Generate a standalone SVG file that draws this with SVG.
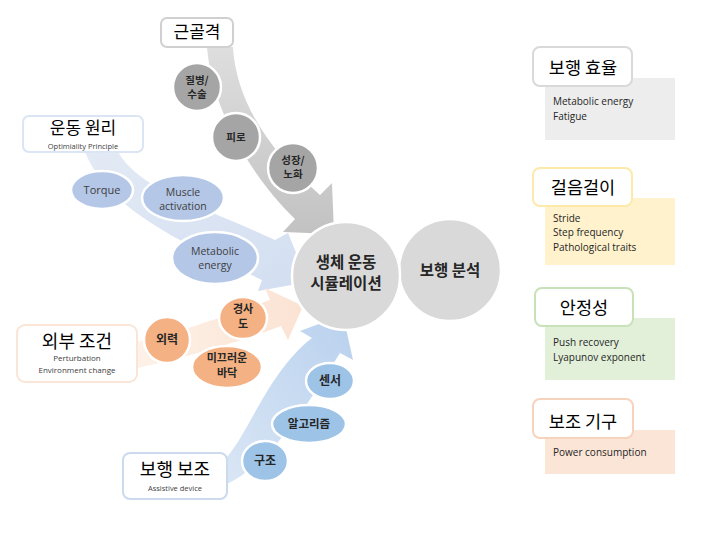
<svg xmlns="http://www.w3.org/2000/svg" width="720" height="540" viewBox="0 0 720 540">
<defs>
<linearGradient id="gGray" x1="0" y1="0" x2="0" y2="1"><stop offset="0" stop-color="#dedede"/><stop offset="1" stop-color="#c2c2c2"/></linearGradient>
<linearGradient id="gLB" x1="0" y1="0" x2="1" y2="1"><stop offset="0" stop-color="#e3eaf5"/><stop offset="1" stop-color="#d2def1"/></linearGradient>
<linearGradient id="gPe" x1="0" y1="0" x2="1" y2="0"><stop offset="0" stop-color="#fdf1e8"/><stop offset="1" stop-color="#fbe3d3"/></linearGradient>
<linearGradient id="gBl" x1="0" y1="1" x2="1" y2="0"><stop offset="0" stop-color="#d9e6f5"/><stop offset="1" stop-color="#b9d1ee"/></linearGradient>
</defs>
<style>
.ko{font-family:"Noto Sans CJK KR",sans-serif;fill:#000;text-anchor:middle}
.kob{font-family:"Noto Sans CJK KR",sans-serif;font-weight:bold;fill:#262626;text-anchor:middle}
.en{font-family:"Open Sans","Noto Sans CJK KR",sans-serif;fill:#262626}
.enc{font-family:"Open Sans","Noto Sans CJK KR",sans-serif;fill:#404040;text-anchor:middle}
.lbl{fill:#fff;stroke-width:2}
.sm{stroke:#fff;stroke-width:2.5}
</style>
<rect width="720" height="540" fill="#fff"/>
<g id="connectors">
<path d="M207,47 L233,47 C236,100 268,150 320,195 L332,183 L334,234 L283,232 L295,219 C250,175 212,110 207,47 Z" fill="url(#gGray)"/>
<path d="M85,152 L118,152 C140,190 200,205 275,240 L288,233 L308,282 L258,291 L262,280 C200,250 110,215 85,152 Z" fill="url(#gLB)"/>
<path d="M137,342 C170,335 220,318 270,300 L265,288 L303,306 L288,340 L281,326 C230,345 175,360 137,368 Z" fill="url(#gPe)"/>
<path d="M227,457 C250,430 270,370 312,338 L300,331 L343,315 L353,360 L340,353 C310,400 275,460 227,484 Z" fill="url(#gBl)"/>
</g>
<g id="musculoskeletal">
<rect x="161" y="18" width="72" height="29" rx="6" class="lbl" stroke="#d0d0d0"/>
<text x="197" y="38" class="ko" font-size="17">근골격</text>
</g>
<g id="disease">
<circle cx="197" cy="87" r="24" fill="#a5a5a5" class="sm"/>
<text x="197" y="84" class="kob" font-size="10.5">질병/</text>
<text x="197" y="98" class="kob" font-size="10.5">수술</text>
</g>
<g id="fatigue">
<circle cx="236" cy="137" r="24" fill="#a5a5a5" class="sm"/>
<text x="236" y="141" class="kob" font-size="10.5">피로</text>
</g>
<g id="growth">
<circle cx="293" cy="168" r="25" fill="#a5a5a5" class="sm"/>
<text x="293" y="164" class="kob" font-size="10.5">성장/</text>
<text x="293" y="178" class="kob" font-size="10.5">노화</text>
</g>
<g id="motion-principle">
<rect x="23" y="116" width="120" height="36" rx="6" class="lbl" stroke="#dce5f3"/>
<text x="83" y="134" class="ko" font-size="17">운동 원리</text>
<text x="83" y="148.5" class="enc" font-size="7.5" fill="#262626">Optimiality Principle</text>
</g>
<g id="torque">
<ellipse cx="102" cy="190" rx="31" ry="19" fill="#b4c7e7" class="sm"/>
<text x="102" y="194" class="enc" font-size="11">Torque</text>
</g>
<g id="muscle">
<ellipse cx="183" cy="198" rx="41" ry="23" fill="#b4c7e7" class="sm"/>
<text x="183" y="196" class="enc" font-size="10.5">Muscle</text>
<text x="183" y="210" class="enc" font-size="10.5">activation</text>
</g>
<g id="metabolic">
<ellipse cx="215" cy="258" rx="43" ry="26" fill="#b4c7e7" class="sm"/>
<text x="215" y="255" class="enc" font-size="10.5">Metabolic</text>
<text x="215" y="269" class="enc" font-size="10.5">energy</text>
</g>
<g id="external">
<rect x="17" y="325" width="120" height="57" rx="8" class="lbl" stroke="#fbe5d6"/>
<text x="77" y="348" class="ko" font-size="18">외부 조건</text>
<text x="77" y="361" class="enc" font-size="8" fill="#262626">Perturbation</text>
<text x="77" y="373" class="enc" font-size="8" fill="#262626">Environment change</text>
</g>
<g id="force">
<circle cx="167" cy="340" r="23" fill="#f4b183" class="sm"/>
<text x="167" y="344" class="kob" font-size="12">외력</text>
</g>
<g id="slope">
<ellipse cx="243" cy="318" rx="24" ry="21" fill="#f4b183" class="sm"/>
<text x="243" y="313" class="kob" font-size="11">경사</text>
<text x="243" y="328" class="kob" font-size="11">도</text>
</g>
<g id="slippery">
<ellipse cx="227" cy="367" rx="35" ry="21" fill="#f4b183" class="sm"/>
<text x="227" y="362" class="kob" font-size="11">미끄러운</text>
<text x="227" y="377" class="kob" font-size="11">바닥</text>
</g>
<g id="assist">
<rect x="123" y="453" width="104" height="46" rx="7" class="lbl" stroke="#cbdaed"/>
<text x="175" y="476" class="ko" font-size="18">보행 보조</text>
<text x="175" y="491" class="enc" font-size="7.5" fill="#262626">Assistive device</text>
</g>
<g id="sensor">
<ellipse cx="330" cy="381" rx="24" ry="18" fill="#9dc3e6" class="sm"/>
<text x="330" y="385" class="kob" font-size="12">센서</text>
</g>
<g id="algorithm">
<ellipse cx="309" cy="424" rx="37" ry="19" fill="#9dc3e6" class="sm"/>
<text x="309" y="428" class="kob" font-size="11.5">알고리즘</text>
</g>
<g id="structure">
<ellipse cx="265" cy="461" rx="23" ry="20" fill="#9dc3e6" class="sm"/>
<text x="265" y="465" class="kob" font-size="12">구조</text>
</g>
<g id="gait-analysis">
<circle cx="450" cy="270" r="51" fill="#d9d9d9" class="sm"/>
<text x="450" y="276" class="kob" font-size="15.5" fill="#000">보행 분석</text>
</g>
<g id="simulation">
<circle cx="346" cy="276" r="54" fill="#d9d9d9" class="sm"/>
<text x="346" y="268" class="kob" font-size="15.5" fill="#000">생체 운동</text>
<text x="346" y="289" class="kob" font-size="15.5" fill="#000">시뮬레이션</text>
</g>
<g id="efficiency">
<rect x="545" y="78" width="130" height="62" fill="#ededed"/>
<rect x="533" y="47" width="99" height="39" rx="7" class="lbl" stroke="#d9d9d9"/>
<text x="583" y="74" class="ko" font-size="17.5">보행 효율</text>
<text x="553" y="105" class="en" font-size="10">Metabolic energy</text>
<text x="553" y="120" class="en" font-size="10">Fatigue</text>
</g>
<g id="gait">
<rect x="545" y="198" width="130" height="67" fill="#fff2cc"/>
<rect x="533" y="168" width="99" height="38" rx="7" class="lbl" stroke="#fde9a9"/>
<text x="583" y="194" class="ko" font-size="17.5">걸음걸이</text>
<text x="553" y="222" class="en" font-size="10">Stride</text>
<text x="553" y="236" class="en" font-size="10">Step frequency</text>
<text x="553" y="251" class="en" font-size="10">Pathological traits</text>
</g>
<g id="stability">
<rect x="545" y="318" width="130" height="62" fill="#e2f0d9"/>
<rect x="535" y="288" width="98" height="38" rx="7" class="lbl" stroke="#c9e1b9"/>
<text x="584" y="314" class="ko" font-size="17.5">안정성</text>
<text x="553" y="346" class="en" font-size="10">Push recovery</text>
<text x="553" y="361" class="en" font-size="10">Lyapunov exponent</text>
</g>
<g id="assistive-device">
<rect x="545" y="430" width="130" height="44" fill="#fbe5d6"/>
<rect x="533" y="399" width="100" height="39" rx="7" class="lbl" stroke="#f6d3bd"/>
<text x="583" y="428" class="ko" font-size="17.5">보조 기구</text>
<text x="553" y="456" class="en" font-size="10">Power consumption</text>
</g>
</svg>
